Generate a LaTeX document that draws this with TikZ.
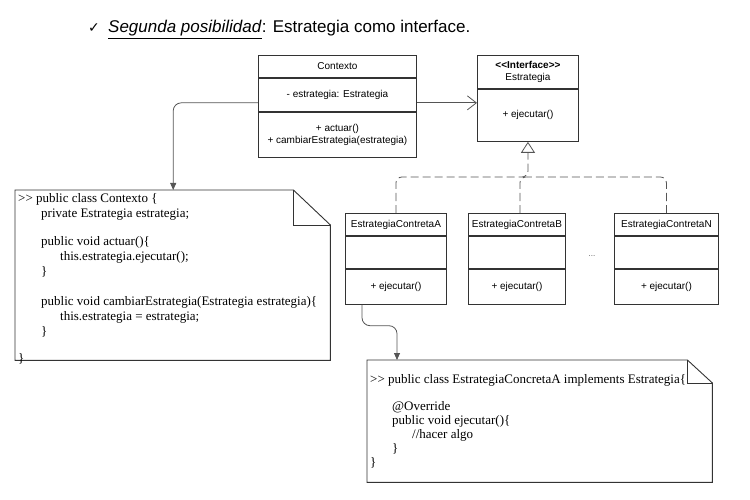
\documentclass[tikz,border=0pt]{standalone}
\usepackage{fontspec}
\setmainfont{Liberation Sans}
\newfontfamily\codefont{Liberation Serif}
\newfontfamily\symfont{DejaVu Sans}
\usetikzlibrary{arrows.meta}
\definecolor{boxline}{HTML}{333333}
\definecolor{conn}{HTML}{555555}
\tikzset{
  comp/.style={draw=boxline, line width=0.9pt, rectangle, inner sep=0pt, anchor=north west, font=\fontsize{10}{12}\selectfont, align=center},
  codetext/.style={inner sep=0pt, anchor=north west, align=left},
  notebox/.style={rectangle, inner sep=0pt, anchor=north west},
  noteline/.style={draw=boxline, line width=0.9pt, fill=white},
  dep/.style={draw=conn, line width=0.8pt, rounded corners=8pt, -{Triangle[length=7pt,width=6pt]}},
  assoc/.style={draw=conn, line width=0.8pt, -{Straight Barb[length=9pt,width=14pt,line width=0.8pt]}},
  genline/.style={draw=conn, line width=0.8pt, dash pattern=on 8pt off 4pt, rounded corners=6pt},
}
\begin{document}
\begin{tikzpicture}[x=1pt,y=-1pt]
\useasboundingbox (0,0) rectangle (750,500);
% title
\node[anchor=base west, inner sep=0pt, font=\symfont\fontsize{14}{16}\selectfont] (chk) at (88,33) {✓};
\node[anchor=base west, inner sep=0pt, font=\fontsize{17}{20}\selectfont] (title) at (108,33) {\underline{\textit{Segunda posibilidad}}: Estrategia como interface.};
% Contexto class
\node[comp, minimum width=158pt, minimum height=22pt] (ctxN) at (258,55) {Contexto};
\node[comp, minimum width=158pt, minimum height=33pt] (ctxA) at (ctxN.south west) {- estrategia: Estrategia};
\node[comp, minimum width=158pt, minimum height=45pt] (ctxM) at (ctxA.south west) {+ actuar()\\+ cambiarEstrategia(estrategia)};
% Estrategia interface
\node[comp, minimum width=101pt, minimum height=33pt] (estN) at (477,55) {\textbf{{<}{<}Interface{>}{>}}\\Estrategia};
\node[comp, minimum width=101pt, minimum height=52pt] (estM) at (estN.south west) {+ ejecutar()};
% concrete classes
\node[comp, minimum width=101pt, minimum height=22pt] (aN) at (345,213) {EstrategiaContretaA};
\node[comp, minimum width=101pt, minimum height=32pt] (aA) at (aN.south west) {};
\node[comp, minimum width=101pt, minimum height=35pt] (aM) at (aA.south west) {+ ejecutar()};
\node[comp, minimum width=97pt, minimum height=22pt] (bN) at (468,213) {EstrategiaContretaB};
\node[comp, minimum width=97pt, minimum height=32pt] (bA) at (bN.south west) {};
\node[comp, minimum width=97pt, minimum height=35pt] (bM) at (bA.south west) {+ ejecutar()};
\node[comp, minimum width=104pt, minimum height=22pt] (nN) at (614,213) {EstrategiaContretaN};
\node[comp, minimum width=104pt, minimum height=32pt] (nA) at (nN.south west) {};
\node[comp, minimum width=104pt, minimum height=35pt] (nM) at (nA.south west) {+ ejecutar()};
\node[inner sep=0pt, font=\fontsize{8}{10}\selectfont, text=conn] (dots) at (592,256) {...};
% note 1
\node[notebox, minimum width=315pt, minimum height=170pt] (n1) at (15,190) {};
\path[noteline] (n1.north west) -- ([xshift=-37pt]n1.north east) -- ([yshift=-35pt]n1.north east) -- (n1.south east) -- (n1.south west) -- cycle;
\draw[boxline, line width=0.9pt] ([xshift=-37pt]n1.north east) -- ([xshift=-37pt,yshift=-35pt]n1.north east) -- ([yshift=-35pt]n1.north east);
\node[codetext, font=\codefont\fontsize{13}{15}\selectfont] (c1) at (18,193) {%
{>}> public class Contexto \{\\
\hspace*{23pt}private Estrategia estrategia;\\[13pt]
\hspace*{23pt}public void actuar()\{\\
\hspace*{42pt}this.estrategia.ejecutar();\\
\hspace*{23pt}\}\\[15pt]
\hspace*{23pt}public void cambiarEstrategia(Estrategia estrategia)\{\\
\hspace*{42pt}this.estrategia = estrategia;\\
\hspace*{23pt}\}\\[12pt]
\}};
% note 2
\node[notebox, minimum width=345pt, minimum height=122pt] (n2) at (367,360) {};
\path[noteline] (n2.north west) -- ([xshift=-25pt]n2.north east) -- ([yshift=-23pt]n2.north east) -- (n2.south east) -- (n2.south west) -- cycle;
\draw[boxline, line width=0.9pt] ([xshift=-25pt]n2.north east) -- ([xshift=-25pt,yshift=-23pt]n2.north east) -- ([yshift=-23pt]n2.north east);
\node[codetext, font=\codefont\fontsize{13}{14}\selectfont] (c2) at (370,374) {%
{>}> public class EstrategiaConcretaA implements Estrategia\{\\[13pt]
\hspace*{22pt}@Override\\
\hspace*{22pt}public void ejecutar()\{\\
\hspace*{42pt}//hacer algo\\
\hspace*{22pt}\}\\
\}};
% connectors
\coordinate (s1) at ([yshift=-8pt]ctxA.east);
\draw[assoc] (s1) -- (s1 -| estM.west);
\coordinate (s2) at ([yshift=-8pt]ctxA.west);
\draw[dep] (s2) -| ([xshift=0.5pt]n1.north);
\draw[dep] ([xshift=17pt]aM.south west) -- ++(0,21) -| ([xshift=30pt]n2.north west);
\coordinate (j) at (estM.south |- 0,177);
\draw[genline, -{Triangle[open,length=11pt,width=14pt,line width=0.8pt]}] (aN.north) |- (j) -- (estM.south);
\draw[genline] (nN.north) |- (j);
\draw[genline] ([xshift=3pt]bN.north) |- (j);
\end{tikzpicture}
\end{document}
